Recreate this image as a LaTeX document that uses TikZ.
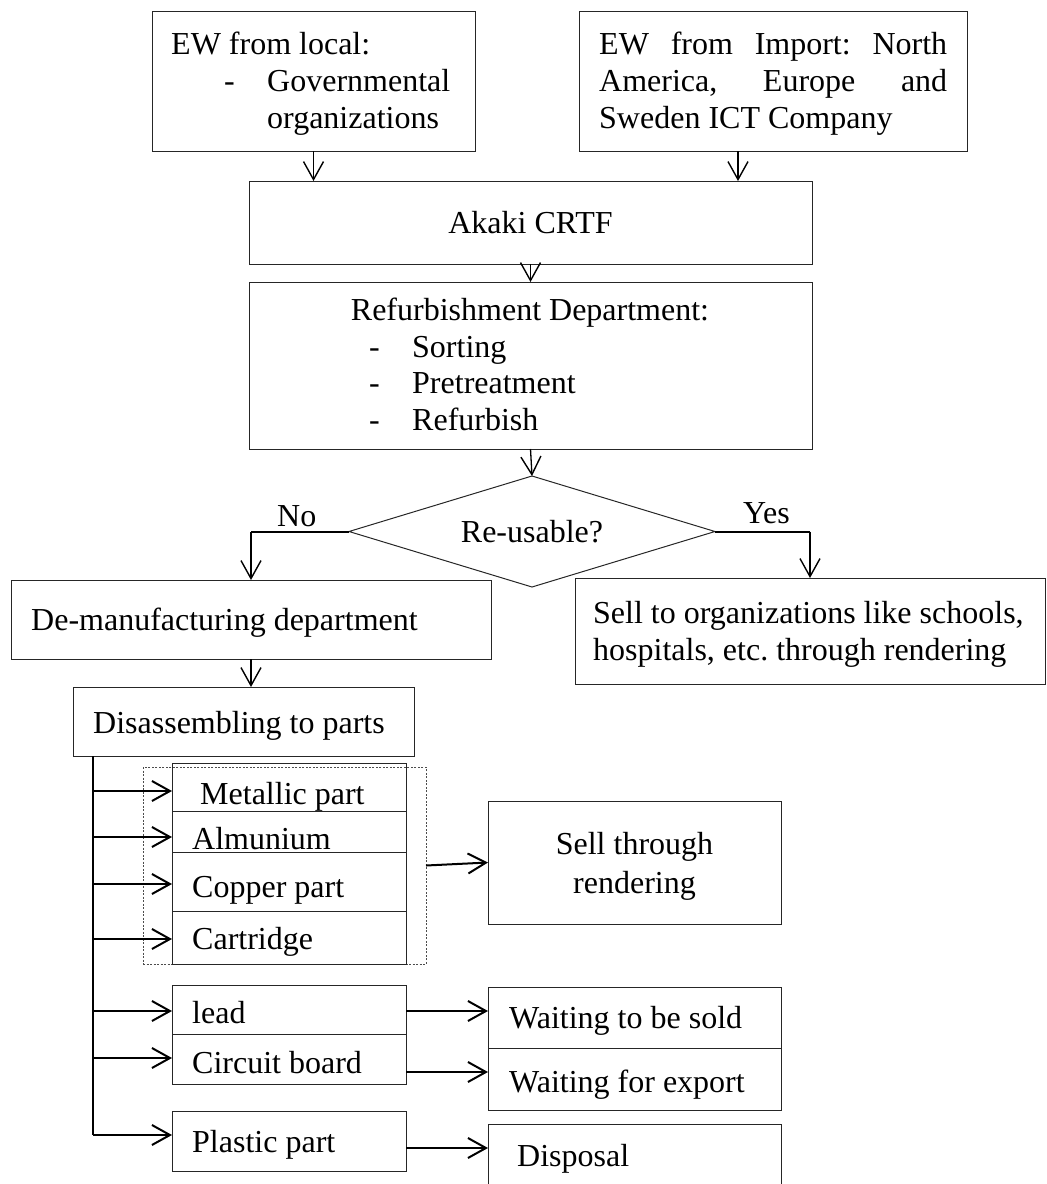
\documentclass[tikz,border=0pt]{standalone}
\usepackage{fontspec}
\setmainfont{Liberation Serif}
\usetikzlibrary{arrows.meta,shapes.geometric,calc}
\newcommand\figfont{\fontsize{32}{37.5}\selectfont}
\frenchspacing
\begin{document}
\begin{tikzpicture}[x=1pt,y=-1pt,
  box/.style={draw=black!85, line width=1pt, anchor=north west, inner sep=0pt, outer sep=0pt},
  txt/.style={inner sep=0pt, anchor=base west, font=\figfont},
  ctxt/.style={inner sep=0pt, anchor=base, font=\figfont},
  arr/.style={line width=1.3pt, -{Straight Barb[length=18pt,width=20pt,line width=1.4pt]}},
  parr/.style={line width=2pt, -{Straight Barb[length=18pt,width=20pt,line width=2pt]}},
  lnk/.style={line width=2pt},
  grp/.style={draw=black!70, line width=0.8pt, dash pattern=on 2pt off 1.5pt}
]
\useasboundingbox (0,0) rectangle (1047,1184);

% top boxes
\node[box, minimum width=323pt, minimum height=140pt] (b1) at (152,11) {};
\node[box, minimum width=388pt, minimum height=140pt] (b2) at (579,11) {};
\node[txt] (t1a) at (171,54) {EW from local:};
\node[txt] (t1b) at (224,91) {-};
\node[txt] (t1c) at (267,91) {Governmental};
\node[txt] (t1d) at (267,128) {organizations};
\node[txt] (t2a) at (599,54) {\makebox[348pt][s]{EW from Import: North}};
\node[txt] (t2b) at (599,91) {\makebox[348pt][s]{America, Europe and}};
\node[txt] (t2c) at (599,128) {Sweden ICT Company};

% Akaki
\node[box, minimum width=563pt, minimum height=83pt, font=\figfont] (ak) at (249,181) {Akaki CRTF};

% Refurbishment
\node[box, minimum width=563pt, minimum height=167pt] (rf) at (249,282) {};
\node[ctxt] (trf) at (530,320) {Refurbishment Department:};
\node[txt] (trd1) at (369,357) {-};
\node[txt] (trs1) at (412,357) {Sorting};
\node[txt] (trd2) at (369,393) {-};
\node[txt] (trs2) at (412,393) {Pretreatment};
\node[txt] (trd3) at (369,430) {-};
\node[txt] (trs3) at (412,430) {Refurbish};

% Decision
\node[draw=black!85, line width=1pt, diamond, minimum width=366pt, minimum height=111pt, inner sep=0pt, outer sep=0pt] (dia) at (532,531.5) {};
\node[ctxt] (tdia) at (532,542) {Re-usable?};
\node[txt] (tno) at (277,526) {No};
\node[txt] (tyes) at (743,523) {Yes};

% De-manufacturing and sell
\node[box, minimum width=480pt, minimum height=79pt] (dm) at (11,580) {};
\node[txt] (tdm) at (31,630) {De-manufacturing department};
\node[box, minimum width=470pt, minimum height=106pt] (sl) at (575,578) {};
\node[txt] (tsl1) at (593,623) {Sell to organizations like schools,};
\node[txt] (tsl2) at (593,660) {hospitals, etc. through rendering};

% Disassembling
\node[box, minimum width=341pt, minimum height=69pt] (ds) at (73,687) {};
\node[txt] (tds) at (93,733) {Disassembling to parts};

% group dashed box
\node[grp, anchor=north west, minimum width=283pt, minimum height=197pt, inner sep=0pt, outer sep=0pt] (grp) at (143,767) {};

% parts
\node[box, minimum width=234pt, minimum height=48pt] (p1) at (172,763) {};
\node[box, minimum width=234pt, minimum height=41pt] (p2) at (172,811) {};
\node[box, minimum width=234pt, minimum height=59pt] (p3) at (172,852) {};
\node[box, minimum width=234pt, minimum height=53pt] (p4) at (172,911) {};
\node[box, minimum width=234pt, minimum height=49pt] (p5) at (172,985) {};
\node[box, minimum width=234pt, minimum height=50pt] (p6) at (172,1034) {};
\node[box, minimum width=234pt, minimum height=60pt] (p7) at (172,1111) {};
\node[txt] (tp1) at (200,804) {Metallic part};
\node[txt] (tp2) at (192,849) {Almunium};
\node[txt] (tp3) at (192,897) {Copper part};
\node[txt] (tp4) at (192,949) {Cartridge};
\node[txt] (tp5) at (192,1023) {lead};
\node[txt] (tp6) at (192,1073) {Circuit board};
\node[txt] (tp7) at (192,1152) {Plastic part};

% outcomes
\node[box, minimum width=293pt, minimum height=123pt] (st) at (488,801) {};
\node[ctxt] (tst1) at (634.5,854) {Sell through};
\node[ctxt] (tst2) at (634.5,893) {rendering};
\node[box, minimum width=293pt, minimum height=61pt] (ws) at (488,987) {};
\node[box, minimum width=293pt, minimum height=62pt] (we) at (488,1048) {};
\node[box, minimum width=293pt, minimum height=66pt] (dp) at (488,1124) {};
\node[txt] (tws) at (509,1028) {Waiting to be sold};
\node[txt] (twe) at (509,1092) {Waiting for export};
\node[txt] (tdp) at (517,1166) {Disposal};

% connectors top
\draw[arr] (b1.south) -- (b1.south |- ak.north);
\coordinate (b2o) at ($(b2.south)+(-35,0)$);
\draw[arr] (b2o) -- (b2o |- ak.north);
\draw[arr] (ak.south) -- (rf.north);
\draw[arr] (rf.south) -- (dia.north);
\draw[lnk] (dia.west) -- (dia.west -| dm.north);
\draw[arr] (dia.west -| dm.north) -- (dm.north);
\draw[lnk] (dia.east) -- (dia.east -| sl.north);
\draw[arr] (dia.east -| sl.north) -- (sl.north);
\draw[arr] (dm.south) -- (dm.south |- ds.north);

% trunk
\coordinate (j0) at (93,756);
\coordinate (j1) at (93,791);
\coordinate (j2) at (93,837);
\coordinate (j3) at (93,884);
\coordinate (j4) at (93,939);
\coordinate (j5) at (93,1011);
\coordinate (j6) at (93,1058);
\coordinate (j7) at (93,1135);
\draw[lnk] (j0) -- (j7);
\draw[parr] (j1) -- (j1 -| p1.west);
\draw[parr] (j2) -- (j2 -| p2.west);
\draw[parr] (j3) -- (j3 -| p3.west);
\draw[parr] (j4) -- (j4 -| p4.west);
\draw[parr] (j5) -- (j5 -| p5.west);
\draw[parr] (j6) -- (j6 -| p6.west);
\draw[parr] (j7) -- (j7 -| p7.west);

% outputs
\draw[parr] (grp.east) -- (st.west);
\draw[parr] (j5 -| p5.east) -- (j5 -| ws.west);
\coordinate (c6) at ($(p6.east)+(0,13)$);
\draw[parr] (c6) -- (c6 -| we.west);
\coordinate (c7) at ($(p7.east)+(0,7)$);
\draw[parr] (c7) -- (c7 -| dp.west);
\end{tikzpicture}
\end{document}
